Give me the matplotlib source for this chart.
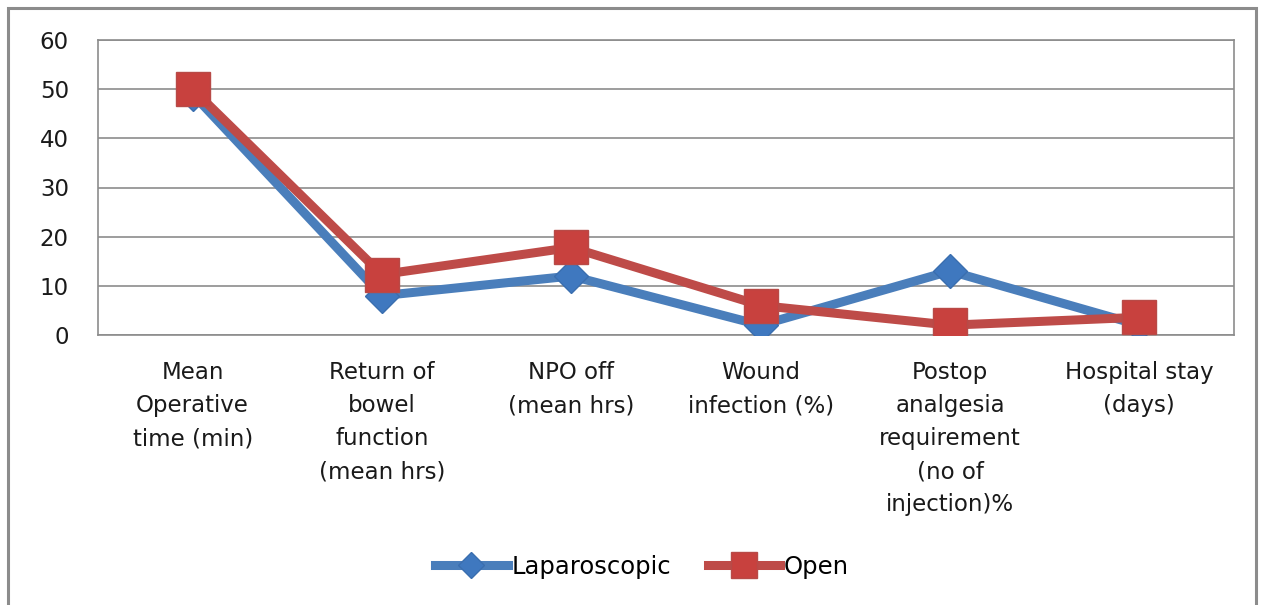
import matplotlib
matplotlib.use("Agg")
import matplotlib.pyplot as plt
from matplotlib.patches import Rectangle

plt.rcParams['font.family'] = ['DejaVu Sans']

categories = ["Mean\nOperative\ntime (min)",
              "Return of\nbowel\nfunction\n(mean hrs)",
              "NPO off\n(mean hrs)",
              "Wound\ninfection (%)",
              "Postop\nanalgesia\nrequirement\n(no of\ninjection)%",
              "Hospital stay\n(days)"]
laparoscopic = [49, 8, 12, 2, 13, 2]
open_surg = [50, 12.3, 17.8, 6, 2, 3.6]
yticks = [0, 10, 20, 30, 40, 50, 60]

fig = plt.figure(figsize=(12.64, 6.05), dpi=100)
fig.patches.append(Rectangle((8/1264, -0.01), 1248/1264, 1 - 8/605 + 0.01,
                             transform=fig.transFigure, fill=False,
                             edgecolor='#8c8c8c', linewidth=2.2))
ax = fig.add_axes([98/1264, 1 - 335/605, 1136/1264, 295/605])

x = list(range(len(categories)))
ax.plot(x, laparoscopic, color='#4A7EBB', linewidth=6.5, marker='D',
        markersize=17, markerfacecolor='#3F78BF', markeredgecolor='#3A6EAF',
        label='Laparoscopic', zorder=3)
ax.plot(x, open_surg, color='#BE4B48', linewidth=6.5, marker='s',
        markersize=24, markerfacecolor='#C8413E', markeredgecolor='#B84A47',
        label='Open', zorder=4)

ax.set_xlim(-0.5, len(categories) - 0.5)
ax.set_ylim(0, 60)
ax.set_yticks(yticks)
ax.set_yticklabels([str(t) for t in yticks], fontsize=16.5)
ax.set_xticks(x)
ax.set_xticklabels(categories, fontsize=16.5, linespacing=1.55, va='top')
ax.tick_params(axis='both', length=0, colors='#1a1a1a')
ax.tick_params(axis='y', pad=21)
ax.tick_params(axis='x', pad=19)
ax.grid(axis='y', color='#8c8c8c', linewidth=1.2)
ax.set_axisbelow(True)
for s in ax.spines.values():
    s.set_color('#8c8c8c')
    s.set_linewidth(1.2)

leg = fig.legend(loc='center', bbox_to_anchor=(642/1264, 1 - 567/605), ncol=2,
                 frameon=False, fontsize=17.5, handlelength=3.0, handletextpad=0.15,
                 columnspacing=1.5, markerscale=0.8)

fig.savefig("out.png", dpi=100)
